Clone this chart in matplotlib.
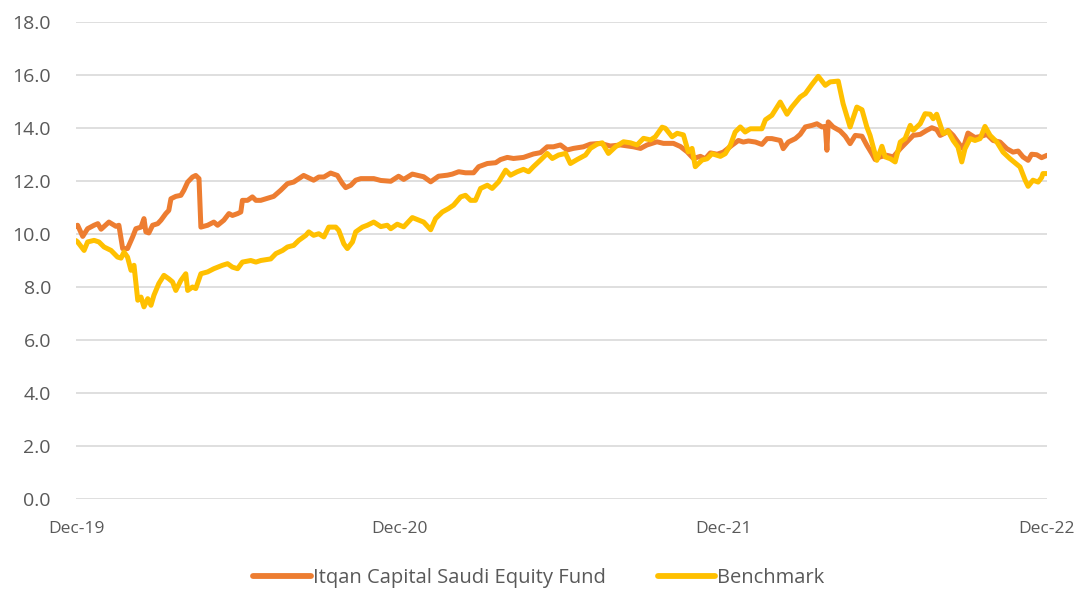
import matplotlib
matplotlib.use("Agg")
import matplotlib.pyplot as plt
import numpy as np

# months since Dec-2019 and values
fund_t = [0.00, 0.06, 0.25, 0.43, 0.67, 0.81, 0.93, 1.22, 1.48, 1.59, 1.73, 1.91, 2.10, 2.22, 2.41, 2.52, 2.59, 2.70,
          2.84, 3.03, 3.15, 3.33, 3.44, 3.52, 3.70, 3.89, 4.00, 4.14, 4.32, 4.44, 4.56, 4.63, 4.88, 5.11, 5.25, 5.48,
          5.67, 5.80, 5.99, 6.11, 6.17, 6.36, 6.54, 6.67, 6.85, 7.04, 7.33, 7.59, 7.84, 8.07, 8.26, 8.44, 8.81, 9.00,
          9.19, 9.44, 9.69, 9.88, 10.00, 10.19, 10.37, 10.56, 11.04, 11.30, 11.67, 11.96, 12.15, 12.47, 12.89, 13.15,
          13.44, 13.77, 13.95, 14.19, 14.44, 14.74, 14.93, 15.25, 15.56, 15.74, 15.99, 16.22, 16.59, 16.96, 17.22,
          17.47, 17.70, 17.96, 18.21, 18.44, 18.81, 19.07, 19.44, 19.81, 20.19, 20.67, 20.93, 21.17, 21.54, 21.78,
          22.15, 22.41, 22.66, 22.89, 23.15, 23.33, 23.52, 23.77, 24.00, 24.32, 24.56, 24.74, 24.93, 25.19, 25.43,
          25.62, 25.80, 26.11, 26.22, 26.41, 26.67, 26.85, 27.04, 27.29, 27.47, 27.66, 27.78, 27.84, 27.89, 28.07,
          28.33, 28.52, 28.70, 28.89, 29.14, 29.32, 29.51, 29.63, 29.81, 30.06, 30.30, 30.56, 30.80, 31.04, 31.30,
          31.54, 31.73, 31.91, 32.04, 32.22, 32.33, 32.52, 32.78, 32.89, 33.07, 33.33, 33.58, 33.77, 34.00, 34.26,
          34.51, 34.74, 34.93, 35.11, 35.30, 35.43, 35.62, 35.80, 36.00]
fund_v = [10.30, 10.33, 9.91, 10.20, 10.33, 10.39, 10.18, 10.45, 10.29, 10.33, 9.45, 9.45, 9.89, 10.20, 10.26, 10.58,
          10.08, 10.04, 10.33, 10.39, 10.52, 10.77, 10.89, 11.33, 11.42, 11.46, 11.65, 11.96, 12.15, 12.21, 12.09,
          10.26, 10.33, 10.45, 10.33, 10.52, 10.77, 10.70, 10.77, 10.83, 11.27, 11.27, 11.40, 11.27, 11.27, 11.33,
          11.42, 11.65, 11.90, 11.96, 12.09, 12.21, 12.03, 12.15, 12.15, 12.30, 12.21, 11.90, 11.75, 11.84, 12.03,
          12.09, 12.09, 12.02, 11.99, 12.18, 12.06, 12.26, 12.16, 11.97, 12.18, 12.22, 12.26, 12.35, 12.31, 12.31,
          12.54, 12.66, 12.69, 12.81, 12.89, 12.85, 12.89, 13.02, 13.07, 13.29, 13.29, 13.36, 13.17, 13.23, 13.29,
          13.39, 13.42, 13.32, 13.36, 13.29, 13.23, 13.36, 13.48, 13.42, 13.42, 13.30, 13.10, 12.85, 12.93, 12.84,
          13.06, 13.01, 13.09, 13.35, 13.53, 13.47, 13.51, 13.47, 13.38, 13.60, 13.60, 13.53, 13.22, 13.47, 13.60,
          13.76, 14.04, 14.10, 14.16, 14.04, 14.06, 13.16, 14.23, 14.04, 13.89, 13.69, 13.41, 13.72, 13.69, 13.35,
          13.03, 12.81, 12.91, 12.97, 12.91, 13.22, 13.47, 13.72, 13.76, 13.91, 14.01, 13.94, 13.72, 13.81, 13.91,
          13.72, 13.35, 13.22, 13.81, 13.64, 13.69, 13.76, 13.53, 13.47, 13.22, 13.09, 13.13, 12.91, 12.78, 13.01,
          12.99, 12.88, 12.97]

bench_t = [0.00, 0.06, 0.30, 0.43, 0.67, 0.85, 1.04, 1.30, 1.54, 1.67, 1.78, 1.91, 2.04, 2.15, 2.29, 2.41, 2.52, 2.66,
           2.78, 2.89, 3.07, 3.26, 3.44, 3.58, 3.70, 3.89, 4.07, 4.14, 4.32, 4.44, 4.63, 4.88, 5.11, 5.43, 5.62, 5.80,
           5.99, 6.17, 6.48, 6.67, 6.85, 7.22, 7.41, 7.66, 7.84, 8.07, 8.26, 8.52, 8.63, 8.81, 9.00, 9.19, 9.37, 9.63,
           9.74, 9.93, 10.06, 10.25, 10.37, 10.62, 10.80, 11.04, 11.30, 11.54, 11.67, 11.91, 12.15, 12.47, 12.89,
           13.15, 13.33, 13.58, 13.81, 14.00, 14.26, 14.44, 14.63, 14.81, 15.00, 15.25, 15.43, 15.67, 15.93, 16.11,
           16.36, 16.59, 16.78, 16.96, 17.22, 17.47, 17.66, 17.89, 18.15, 18.33, 18.58, 18.89, 19.07, 19.32, 19.51,
           19.74, 20.00, 20.30, 20.56, 20.80, 21.04, 21.30, 21.48, 21.73, 21.85, 22.10, 22.29, 22.52, 22.70, 22.84,
           22.96, 23.21, 23.40, 23.58, 23.89, 24.07, 24.26, 24.44, 24.63, 24.81, 25.00, 25.43, 25.56, 25.80, 25.99,
           26.11, 26.36, 26.54, 26.85, 27.04, 27.29, 27.52, 27.78, 27.96, 28.26, 28.44, 28.70, 28.95, 29.14, 29.32,
           29.44, 29.69, 29.88, 30.00, 30.19, 30.37, 30.56, 30.74, 30.93, 31.04, 31.30, 31.48, 31.67, 31.78, 31.91,
           32.15, 32.33, 32.52, 32.70, 32.84, 32.96, 33.15, 33.33, 33.52, 33.70, 33.89, 34.14, 34.37, 34.63, 34.88,
           35.00, 35.19, 35.30, 35.48, 35.67, 35.80, 35.85, 36.00]
bench_v = [9.75, 9.70, 9.38, 9.70, 9.76, 9.70, 9.51, 9.38, 9.13, 9.09, 9.32, 9.13, 8.63, 8.82, 7.50, 7.62, 7.25, 7.56,
           7.31, 7.69, 8.13, 8.44, 8.31, 8.19, 7.87, 8.25, 8.50, 7.87, 8.00, 7.94, 8.50, 8.57, 8.69, 8.82, 8.88, 8.75,
           8.69, 8.94, 9.00, 8.94, 9.00, 9.06, 9.26, 9.38, 9.51, 9.57, 9.76, 9.95, 10.08, 9.95, 10.01, 9.89, 10.26,
           10.26, 10.14, 9.63, 9.45, 9.70, 10.08, 10.26, 10.33, 10.45, 10.28, 10.33, 10.20, 10.37, 10.27, 10.62,
           10.45, 10.16, 10.58, 10.83, 10.96, 11.09, 11.40, 11.46, 11.27, 11.27, 11.72, 11.84, 11.72, 11.97, 12.41,
           12.22, 12.35, 12.44, 12.35, 12.54, 12.79, 13.04, 12.85, 12.98, 13.04, 12.66, 12.81, 12.98, 13.23, 13.39,
           13.44, 13.04, 13.29, 13.48, 13.44, 13.36, 13.61, 13.55, 13.67, 14.03, 13.99, 13.67, 13.80, 13.74, 13.10,
           13.23, 12.54, 12.79, 12.84, 13.03, 12.93, 13.03, 13.35, 13.85, 14.04, 13.85, 13.97, 13.97, 14.31, 14.48,
           14.79, 14.98, 14.52, 14.79, 15.17, 15.30, 15.65, 15.95, 15.61, 15.74, 15.77, 14.92, 14.04, 14.79, 14.69,
           14.04, 13.72, 12.78, 13.31, 12.91, 12.84, 12.72, 13.47, 13.60, 14.10, 13.91, 14.16, 14.54, 14.52, 14.35,
           14.52, 13.79, 13.89, 13.53, 13.28, 12.72, 13.22, 13.60, 13.53, 13.60, 14.06, 13.72, 13.47, 13.09, 12.84,
           12.63, 12.53, 12.03, 11.80, 12.03, 11.96, 12.13, 12.28, 12.28]

x_ticks = [0, 12, 24, 36]
x_labels = ["Dec-19", "Dec-20", "Dec-21", "Dec-22"]
y_ticks = [0, 2, 4, 6, 8, 10, 12, 14, 16, 18]

plt.rcParams['font.family'] = ['Open Sans', 'DejaVu Sans']

fig = plt.figure(figsize=(10.78, 5.90), dpi=100)
ax = fig.add_axes([76/1078, 1-499/590, (1047-76)/1078, (499-22)/590])

ax.plot(fund_t, fund_v, color="#ED7D31", lw=3.6, solid_joinstyle="round", solid_capstyle="round",
        label="Itqan Capital Saudi Equity Fund", zorder=3)
ax.plot(bench_t, bench_v, color="#FFC000", lw=3.6, solid_joinstyle="round", solid_capstyle="round",
        label="Benchmark", zorder=4)

ax.set_xlim(0, 36)
ax.set_ylim(0, 18)
ax.set_yticks(y_ticks)
ax.set_yticklabels([f"{v:.1f}" for v in y_ticks], fontsize=14, color="#595959")
ax.set_xticks(x_ticks)
ax.set_xticklabels(x_labels, fontsize=12.5, color="#595959")
ax.tick_params(axis="both", length=0)
ax.tick_params(axis="x", pad=16)
ax.tick_params(axis="y", pad=18)
ax.grid(axis="y", color="#D9D9D9", lw=1.2)
ax.set_axisbelow(True)
for s in ax.spines.values():
    s.set_visible(False)

leg = fig.legend(loc="center", bbox_to_anchor=(0.5, 1-578/590), ncol=2, frameon=False,
                 fontsize=14.5, handlelength=2.85, handletextpad=0.1, columnspacing=2.6,
                 labelcolor="#595959")
for h in leg.legend_handles:
    h.set_linewidth(4.2)

fig.savefig("out.png", dpi=100)
